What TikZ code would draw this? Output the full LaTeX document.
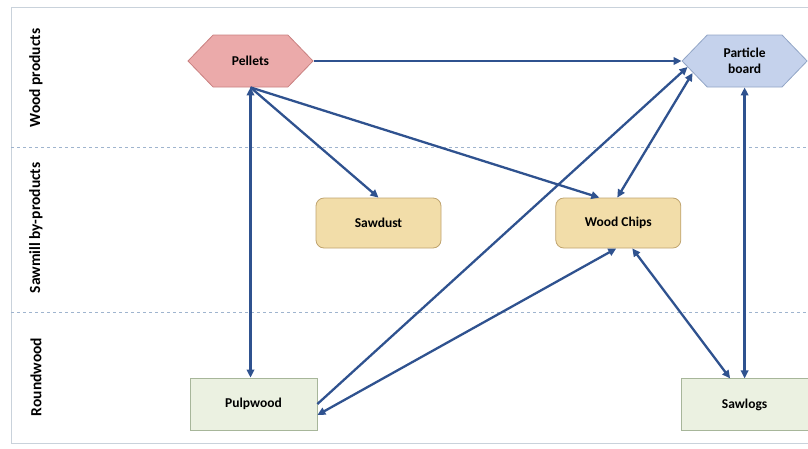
\documentclass[tikz,border=0pt]{standalone}
\usepackage{fontspec}
\setmainfont{Carlito}
\usetikzlibrary{arrows.meta,shapes.symbols,calc,positioning}

\definecolor{flowblue}{HTML}{2F528F}
\definecolor{pelletfill}{HTML}{EBAAAA}
\definecolor{pelletline}{HTML}{C98080}
\definecolor{boardfill}{HTML}{C5D2EC}
\definecolor{boardline}{HTML}{92A5C6}
\definecolor{byfill}{HTML}{F2DDA9}
\definecolor{byline}{HTML}{BFA36E}
\definecolor{roundfill}{HTML}{EBF1E1}
\definecolor{roundline}{HTML}{A7B69A}
\definecolor{divline}{HTML}{9FB4CE}
\definecolor{frameline}{HTML}{C9D2DB}

\tikzset{
  tip/.tip={Triangle[length=8pt,width=7.5pt]},
  flow/.style={draw=flowblue, line width=2.3pt, -tip},
  twoway/.style={flow, tip-tip},
  product/.style={signal, signal to=east and west, signal pointer angle=92,
    minimum width=125pt, minimum height=52pt, inner sep=0pt, line width=0.8pt,
    align=center, font=\fontsize{13.5}{16.5}\selectfont\bfseries},
  byproduct/.style={rectangle, rounded corners=8pt, draw=byline, fill=byfill,
    minimum width=125pt, minimum height=50pt, line width=0.8pt,
    font=\fontsize{13.5}{16.5}\selectfont\bfseries},
  roundwood/.style={rectangle, draw=roundline, fill=roundfill,
    minimum width=127pt, minimum height=52pt, line width=0.8pt,
    font=\fontsize{13.5}{16.5}\selectfont\bfseries},
  band/.style={rotate=90, font=\fontsize{15.5}{18}\selectfont\bfseries},
  divider/.style={draw=divline, dashed, line width=0.8pt}
}

\begin{document}
\begin{tikzpicture}[x=1pt, y=-1pt]
  \useasboundingbox (0,0) rectangle (808,448);
  \draw[frameline, line width=1pt] (11,7) rectangle (820,443);

  \coordinate (d1l) at (11,147);
  \coordinate (d1r) at (808,147);
  \coordinate (d2l) at (11,312);
  \coordinate (d2r) at (808,312);
  \draw[divider] (d1l) -- (d1r);
  \draw[divider] (d2l) -- (d2r);

  \node[band] (wp) at (36,78) {Wood products};
  \node[band] (sb) at (36,228) {Sawmill by-products};
  \node[band] (rw) at (36,377) {Roundwood};

  \node[product, draw=pelletline, fill=pelletfill] (pel) at (250.5,61) {Pellets};
  \node[product, draw=boardline, fill=boardfill] (pb) [right=368pt of pel] {Particle\\board};
  \node[byproduct] (sd) at (378.5,223) {Sawdust};
  \node[byproduct] (wc) [right=114pt of sd] {Wood Chips};
  \node[roundwood] (pulp) at (253.5,404) {Pulpwood};
  \node[roundwood] (slog) [below=291pt of pb] {Sawlogs};

  \draw[flow] (pel.east) -- (pb.west);
  \draw[twoway] (pel.south) -- (pel.south |- pulp.north);
  \draw[flow] (pel.south) -- (sd.north);
  \draw[flow] (pel.south) -- ([xshift=-19pt]wc.north);
  \draw[flow] (pulp.east) -- ([shift={(6,6)}]pb.west);
  \draw[twoway] ([yshift=-11pt]pulp.east) -- ([xshift=-2pt]wc.south);
  \draw[twoway] ([xshift=-1pt]wc.north) -- ([shift={(11,12)}]pb.west);
  \draw[twoway] ([xshift=14pt]wc.south) -- ([xshift=-14.5pt]slog.north);
  \draw[twoway] (pb.south) -- (pb.south |- slog.north);
\end{tikzpicture}
\end{document}
